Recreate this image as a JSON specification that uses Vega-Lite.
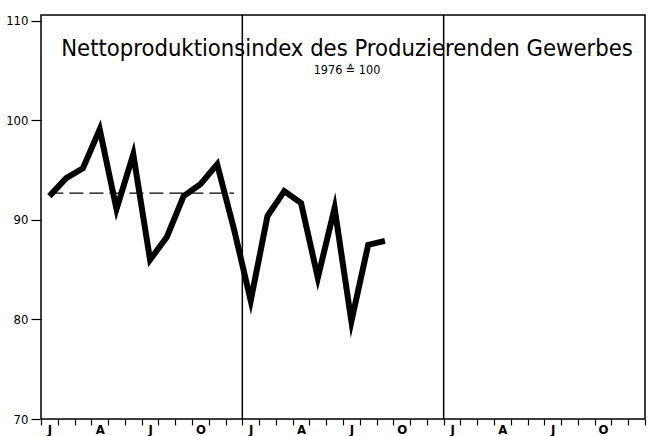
{
  "$schema": "https://vega.github.io/schema/vega-lite/v6.json",
  "width": 604,
  "height": 404,
  "autosize": {"type": "none"},
  "padding": {"left": 41, "top": 15, "right": 6, "bottom": 17},
  "background": "white",
  "datasets": {
    "index": [
      {"month": 1, "value": 92.4},
      {"month": 2, "value": 94.2},
      {"month": 3, "value": 95.2},
      {"month": 4, "value": 99.1},
      {"month": 5, "value": 91.1},
      {"month": 6, "value": 96.6},
      {"month": 7, "value": 86.0},
      {"month": 8, "value": 88.3},
      {"month": 9, "value": 92.4},
      {"month": 10, "value": 93.6},
      {"month": 11, "value": 95.6},
      {"month": 12, "value": 89.1},
      {"month": 13, "value": 81.9},
      {"month": 14, "value": 90.4},
      {"month": 15, "value": 92.9},
      {"month": 16, "value": 91.7},
      {"month": 17, "value": 84.2},
      {"month": 18, "value": 91.2},
      {"month": 19, "value": 79.8},
      {"month": 20, "value": 87.5},
      {"month": 21, "value": 87.9}
    ],
    "average": [{"from": 1, "to": 12, "avg": 92.7}],
    "years": [{"yearEnd": 12.5}, {"yearEnd": 24.5}]
  },
  "title": {
    "text": "Nettoproduktionsindex des Produzierenden Gewerbes",
    "subtitle": "1976 ≙ 100",
    "orient": "top",
    "anchor": "middle",
    "offset": -62,
    "dx": 4,
    "font": "DejaVu Sans Condensed",
    "fontSize": 23.6,
    "fontWeight": "normal",
    "color": "black",
    "subtitleFont": "DejaVu Sans Condensed",
    "subtitleFontSize": 12.5,
    "subtitleColor": "black",
    "subtitlePadding": 3
  },
  "config": {
    "view": {"stroke": "black", "strokeWidth": 1.5},
    "axis": {"grid": false, "domain": false, "tickColor": "black", "labelColor": "black", "labelFont": "DejaVu Sans Condensed", "labelFontSize": 13, "tickWidth": 1.2}
  },
  "layer": [
    {
      "data": {"name": "years"},
      "mark": {"type": "rule", "color": "black", "strokeWidth": 1.5},
      "encoding": {
        "x": {"field": "yearEnd", "type": "quantitative", "scale": {"domain": [0.5, 36.5], "nice": false, "zero": false}}
      }
    },
    {
      "data": {"name": "average"},
      "mark": {"type": "rule", "color": "black", "strokeWidth": 1.3, "strokeDash": [14, 6]},
      "encoding": {
        "x": {"field": "from", "type": "quantitative"},
        "x2": {"field": "to"},
        "y": {"field": "avg", "type": "quantitative"}
      }
    },
    {
      "data": {"name": "index"},
      "mark": {"type": "line", "color": "black", "strokeWidth": 6, "strokeJoin": "miter", "strokeMiterLimit": 10, "strokeCap": "butt"},
      "encoding": {
        "x": {
          "field": "month", "type": "quantitative",
          "scale": {"domain": [0.5, 36.5], "nice": false, "zero": false},
          "axis": {
            "title": null,
            "values": [0.5,1.5,2.5,3.5,4.5,5.5,6.5,7.5,8.5,9.5,10.5,11.5,12.5,13.5,14.5,15.5,16.5,17.5,18.5,19.5,20.5,21.5,22.5,23.5,24.5,25.5,26.5,27.5,28.5,29.5,30.5,31.5,32.5,33.5,34.5,35.5,36.5],
            "tickCount": 40,
            "labelExpr": "datum.value < 36 ? ['J','','','A','','','J','','','O','',''][floor(datum.value) % 12] : ''",
            "labelOffset": 8.4,
            "labelOverlap": false,
            "labelBound": false,
            "labelFlush": false,
            "tickSize": 6,
            "labelPadding": -2,
            "labelFontSize": 13,
            "labelFontWeight": "bold"
          }
        },
        "y": {
          "field": "value", "type": "quantitative",
          "scale": {"domain": [70, 110.6], "nice": false, "zero": false},
          "axis": {
            "title": null,
            "values": [70, 80, 90, 100, 110],
            "tickSize": 10,
            "labelPadding": 3,
            "labelOverlap": false,
            "labelBound": false,
            "labelFlush": false
          }
        }
      }
    }
  ]
}
